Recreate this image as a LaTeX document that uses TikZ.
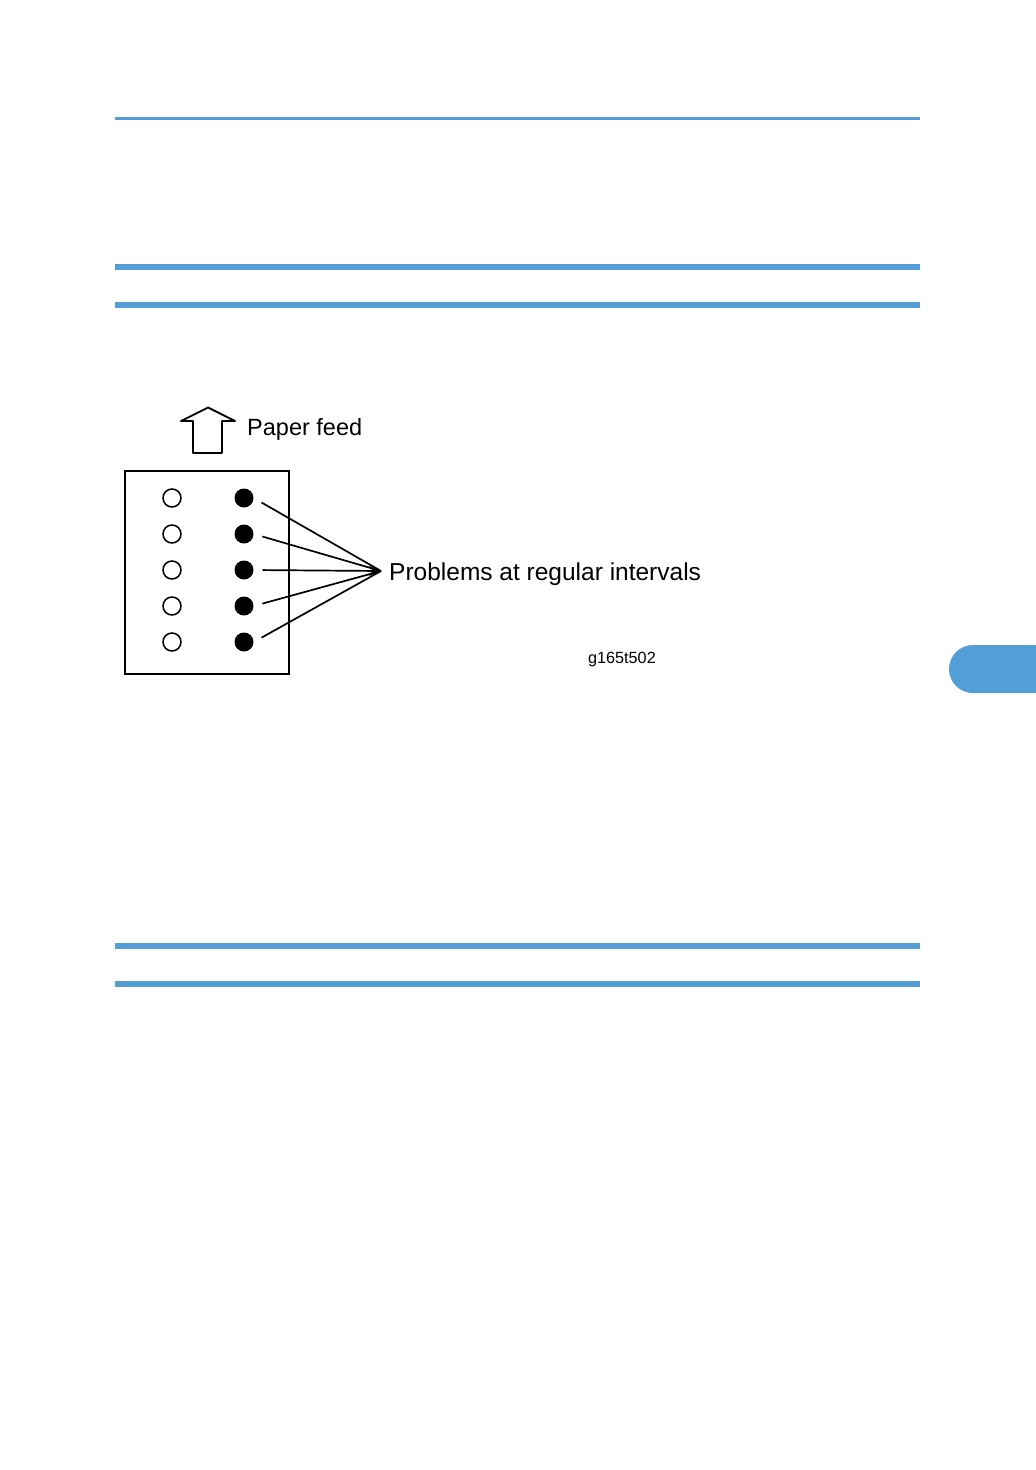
\documentclass[tikz,border=0pt]{standalone}
\usepackage{fontspec}
\setmainfont{Liberation Sans}
\usetikzlibrary{arrows.meta}
\definecolor{rbar}{RGB}{84,158,216}
\tikzset{
  bar/.style={draw=none,fill=rbar},
  hole/.style={circle,draw,line width=1.5pt,minimum size=18pt,inner sep=0pt},
  spot/.style={circle,fill=black,minimum size=19pt,inner sep=0pt},
  lead/.style={line width=1.7pt,shorten <=9pt},
  lbl/.style={inner sep=0pt,anchor=base west,font=\fontsize{24.5}{28}\selectfont}
}
\begin{document}
\begin{tikzpicture}[x=1pt,y=-1pt]
\useasboundingbox[fill=white] (0,0) rectangle (1036,1470);
% page rules
\fill[rbar] (115,116.5) rectangle (920,119.5);
\fill[rbar] (115,264) rectangle (920,270);
\fill[rbar] (115,302) rectangle (920,308);
\fill[rbar] (115,943) rectangle (920,949);
\fill[rbar] (115,981) rectangle (920,987);
% side tab
\fill[rbar] (1036,645) -- (973,645) arc[start angle=270,end angle=90,radius=24] -- (1036,693) -- cycle;
% paper feed arrow
\draw[line width=1.8pt,line join=round] (193,453) -- (193,421) -- (181,421) -- (208,407.5) -- (235,421) -- (222,421) -- (222,453) -- cycle;
\node[lbl,font=\fontsize{23.5}{26}\selectfont] (feed) at (247,435) {Paper feed};
% sheet
\node[draw,line width=2.2pt,minimum width=164pt,minimum height=203pt,inner sep=0pt] (sheet) at (207,572.5) {};
\foreach \i/\y in {1/498,2/534,3/570,4/606,5/642}{
  \node[hole] (h\i) at (172,\y) {};
  \node[spot] (d\i) at (244,\y) {};
}
\coordinate (conv) at (381,571);
\draw[lead] (d1.east) -- (conv);
\draw[lead] (d2.east) -- (conv);
\draw[lead,-{Stealth[length=12pt,width=10pt]}] (d3.east) -- (conv);
\draw[lead] (d4.east) -- (conv);
\draw[lead] (d5.east) -- (conv);
\node[lbl] (prob) at (389,580) {Problems at regular intervals};
\node[lbl,font=\fontsize{16.2}{18}\selectfont] (fig) at (588,663) {g165t502};
\end{tikzpicture}
\end{document}
